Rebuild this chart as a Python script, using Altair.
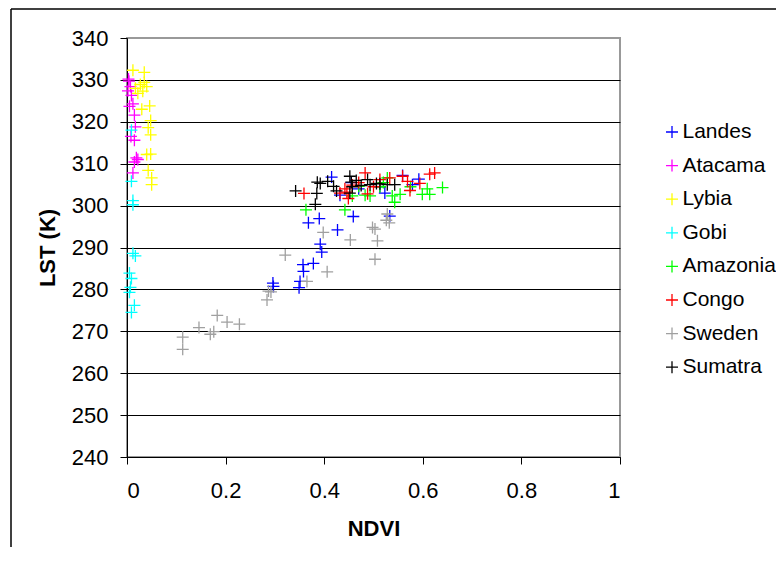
import altair as alt
import pandas as pd

series = ["Landes", "Atacama", "Lybia", "Gobi", "Amazonia", "Congo", "Sweden", "Sumatra"]
colors = ["#0000FF", "#FF00FF", "#FFFF00", "#00FFFF", "#00FF00", "#FF0000", "#A0A0A0", "#000000"]

landes_ndvi = [0.296, 0.297, 0.349, 0.351, 0.357, 0.358, 0.378, 0.368, 0.39, 0.392, 0.395, 0.427, 0.459,
               0.415, 0.432, 0.533, 0.523, 0.513, 0.559, 0.592, 0.579, 0.455, 0.47]
landes_lst = [281.5, 280.7, 280.4, 281.9, 285.9, 284.3, 286.2, 295.9, 296.9, 290.8, 288.9, 294.2, 297.4,
              306.8, 302.5, 297.5, 303.0, 304.5, 307.2, 306.3, 305.0, 305.5, 304.0]

atacama_ndvi = [0.004, 0.007, 0.002, 0.009, 0.005, 0.012, 0.015, 0.017, 0.015, 0.019, 0.015, 0.022, 0.012, 0.008, 0.003]
atacama_lst = [329.7, 328.4, 327.4, 326.3, 323.7, 324.3, 321.6, 318.8, 315.6, 311.4, 310.4, 311.0, 307.8, 316.5, 330.2]

lybia_ndvi = [0.012, 0.035, 0.017, 0.027, 0.035, 0.040, 0.032, 0.022, 0.046, 0.048, 0.043, 0.048, 0.040,
              0.048, 0.043, 0.050, 0.050, 0.030]
lybia_lst = [332.3, 331.8, 328.0, 328.9, 329.4, 328.4, 327.3, 326.8, 323.8, 320.3, 318.6, 316.9, 312.2,
             312.3, 308.4, 306.6, 305.0, 323.0]

gobi_ndvi = [0.009, 0.009, 0.012, 0.012, 0.012, 0.017, 0.005, 0.009, 0.007, 0.005, 0.015, 0.009]
gobi_lst = [318.0, 305.8, 301.2, 300.2, 288.6, 288.0, 283.9, 282.6, 280.5, 279.3, 276.2, 274.5]

amazonia_ndvi = [0.363, 0.442, 0.457, 0.483, 0.493, 0.528, 0.538, 0.543, 0.554, 0.575, 0.599, 0.609, 0.614,
                 0.640, 0.513, 0.470, 0.52]
amazonia_lst = [299.0, 299.0, 302.3, 302.5, 302.3, 306.6, 302.3, 300.8, 302.7, 304.5, 302.7, 304.0, 302.7,
                304.3, 304.5, 304.6, 305.5]

congo_ndvi = [0.359, 0.442, 0.446, 0.449, 0.457, 0.483, 0.488, 0.513, 0.533, 0.559, 0.569, 0.574, 0.594,
              0.614, 0.624, 0.432, 0.47, 0.50]
congo_lst = [302.9, 304.0, 303.2, 301.7, 304.9, 307.8, 302.8, 306.2, 306.6, 307.0, 305.8, 303.6, 305.3,
             307.5, 307.8, 303.0, 305.5, 304.5]

sweden_ndvi = [0.113, 0.113, 0.146, 0.169, 0.176, 0.183, 0.203, 0.228, 0.284, 0.287, 0.292, 0.321, 0.365,
               0.398, 0.406, 0.453, 0.498, 0.503, 0.508, 0.503, 0.528, 0.532, 0.526]
sweden_lst = [265.7, 268.6, 270.9, 269.3, 269.9, 273.8, 272.2, 271.7, 277.5, 279.6, 279.4, 288.2, 281.9,
              293.6, 284.2, 291.8, 294.8, 287.2, 291.6, 294.4, 298.0, 295.9, 296.5]

sumatra_ndvi = [0.342, 0.386, 0.385, 0.382, 0.392, 0.407, 0.419, 0.425, 0.452, 0.455, 0.457, 0.452, 0.488,
                0.493, 0.506, 0.513, 0.528, 0.543, 0.465, 0.475]
sumatra_lst = [303.5, 305.6, 302.9, 300.3, 305.3, 305.8, 304.6, 303.5, 307.0, 305.6, 304.5, 303.0, 306.2,
               305.0, 305.3, 305.2, 305.0, 305.0, 306.0, 304.8]

x_ticks = [0, 0.2, 0.4, 0.6, 0.8, 1]
y_ticks = [240, 250, 260, 270, 280, 290, 300, 310, 320, 330, 340]

all_series = [
    (landes_ndvi, landes_lst), (atacama_ndvi, atacama_lst), (lybia_ndvi, lybia_lst),
    (gobi_ndvi, gobi_lst), (amazonia_ndvi, amazonia_lst), (congo_ndvi, congo_lst),
    (sweden_ndvi, sweden_lst), (sumatra_ndvi, sumatra_lst),
]
rows = []
for i, (name, (xs, ys)) in enumerate(zip(series, all_series)):
    for x, y in zip(xs, ys):
        rows.append({"site": name, "ndvi": x, "lst": y, "ord": i})
df = pd.DataFrame(rows)

FONT = "Liberation Sans"
W, H = 493, 419
CROSS = "M-1,0H1M0,-1V1"

points = alt.Chart(df).mark_point(
    shape=CROSS, filled=False, size=144, strokeWidth=1.3, opacity=1
).encode(
    x=alt.X("ndvi:Q", scale=alt.Scale(domain=[0, 1], nice=False),
            axis=alt.Axis(values=x_ticks, format="~g", grid=False, title="NDVI",
                          labelFont=FONT, labelFontSize=22, labelColor="black",
                          labelBaseline="middle", labelPadding=26,
                          tickSize=7, tickColor="black", domainColor="black",
                          titleFont=FONT, titleFontSize=22, titleFontWeight="bold",
                          titleColor="black", titleX=W / 2, titleY=71,
                          titleBaseline="middle", titleAlign="center")),
    y=alt.Y("lst:Q", scale=alt.Scale(domain=[240, 340], nice=False, zero=False),
            axis=alt.Axis(values=y_ticks, title="LST (K)",
                          labelFont=FONT, labelFontSize=22, labelColor="black",
                          labelPadding=12, tickSize=7, tickColor="black", domainColor="black",
                          grid=True, gridOpacity=1, gridWidth=1,
                          gridColor={"condition": {"test": "datum.value == 340", "value": "#999999"},
                                     "value": "black"},
                          titleFont=FONT, titleFontSize=22, titleFontWeight="bold",
                          titleColor="black", titleX=-80, titleY=H / 2, titleAngle=-90,
                          titleBaseline="middle", titleAlign="center")),
    color=alt.Color("site:N", scale=alt.Scale(domain=series, range=colors),
                    legend=alt.Legend(title=None, orient="none", legendX=534.5, legendY=83.5,
                                      symbolType=CROSS, symbolSize=144, symbolStrokeWidth=1.3,
                                      labelFont=FONT, labelFontSize=21, labelColor="black",
                                      labelOffset=0, rowPadding=11.6, padding=0)),
    order="ord:Q",
)

one = alt.Data(values=[{"a": 1}])
frame_left = alt.Chart(one).mark_rule(color="black", strokeWidth=1.5).encode(
    x=alt.value(-116), y=alt.value(-29), y2=alt.value(600))
frame_top = alt.Chart(one).mark_rule(color="black", strokeWidth=1.5).encode(
    x=alt.value(-116), x2=alt.value(700), y=alt.value(-29))

chart = alt.layer(frame_left, frame_top, points).properties(
    width=W, height=H,
    autosize=alt.AutoSizeParams(type="none"),
    padding={"left": 119, "top": 30, "right": 156, "bottom": 90},
).configure_view(stroke="#999999", strokeWidth=2)

chart.save("out.html", embed_options={"renderer": "svg", "actions": False})
